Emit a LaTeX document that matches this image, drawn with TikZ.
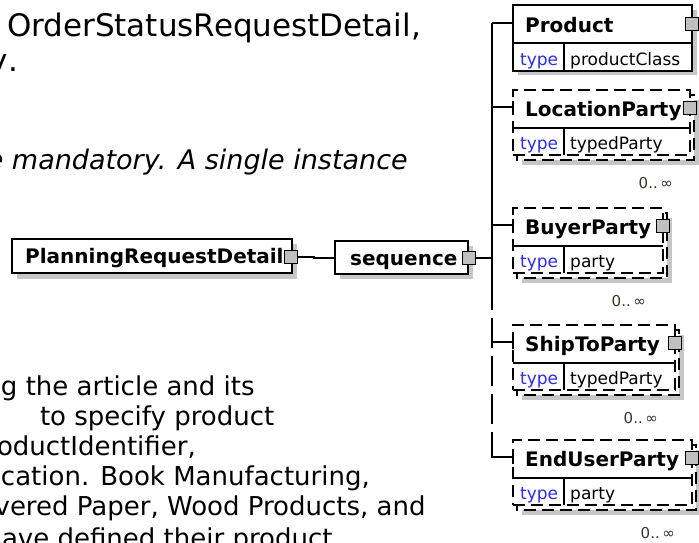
\documentclass[tikz,border=0pt]{standalone}
\usepackage{fontspec}
\setmainfont{DejaVu Sans}
\definecolor{shadowc}{RGB}{198,198,198}
\definecolor{sqfill}{RGB}{192,192,192}
\definecolor{typeblue}{RGB}{45,45,230}
\definecolor{occc}{RGB}{60,50,40}
\newcommand\fsz[1]{\fontsize{#1}{#1}\selectfont}
\tikzset{
  para/.style={anchor=base west, inner sep=0pt, outer sep=0pt},
  boxline/.style={draw=black, line width=1.1pt},
  dashline/.style={draw=black, line width=1.1pt, dash pattern=on 12pt off 6pt},
  ttl/.style={anchor=base west, inner sep=0pt, font={\bfseries\fsz{20}}},
  typelbl/.style={anchor=base west, inner sep=0pt, font={\fsz{17}}, text=typeblue},
  typeval/.style={anchor=base west, inner sep=0pt, font={\fsz{17}}},
  occ/.style={anchor=base east, inner sep=0pt, font={\fsz{15}}, text=occc},
  sqbtn/.style={draw=black, line width=1pt, fill=sqfill, minimum size=13pt, inner sep=0pt},
  conn/.style={draw=black, line width=1.1pt},
  dconn/.style={conn, dash pattern=on 30pt off 8pt},
}
% #1 name, #2 top, #3 right, #4 title, #5 type value
\newcommand\xsdsingle[5]{%
  \fill[shadowc] (518,#2+5) rectangle (#3+5,#2+70);
  \node[boxline, fill=white, anchor=north west, inner sep=0pt, outer sep=0pt,
        minimum width={#3-513}, minimum height=66] (#1) at (513,#2) {};
  \draw[boxline] (513,#2+38) -- (#3,#2+38);
  \draw[boxline] (564,#2+38) -- (564,#2+66);
  \coordinate (#1-in) at (513,#2+18);
  \node[ttl] (#1-t) at (525,#2+27) {#4};
  \node[typelbl] (#1-k) at (520,#2+60) {type};
  \node[typeval] (#1-v) at (570,#2+60) {#5};
  \node[sqbtn] (#1-sq) at (#3,#2+18.5) {};
}
\newcommand\xsdmulti[5]{%
  \fill[shadowc] (522,#2+10) rectangle (#3+9,#2+75);
  \draw[dashline, fill=white] (517,#2+5) rectangle (#3+4,#2+70);
  \node[dashline, fill=white, anchor=north west, inner sep=0pt, outer sep=0pt,
        minimum width={#3-513}, minimum height=65] (#1) at (513,#2) {};
  \draw[boxline] (513,#2+38) -- (#3,#2+38);
  \draw[boxline] (564,#2+38) -- (564,#2+65);
  \draw[boxline] (513,#2+11) -- (513,#2+24);
  \coordinate (#1-in) at (513,#2+17);
  \node[ttl] (#1-t) at (525,#2+26) {#4};
  \node[typelbl] (#1-k) at (520,#2+59) {type};
  \node[typeval] (#1-v) at (570,#2+59) {#5};
  \node[sqbtn] (#1-sq) at (#3,#2+18) {};
  \node[occ] (#1-o) at (#3-17,#2+98) {0..\,∞};
}
\begin{document}
\begin{tikzpicture}[x=1pt,y=-1pt]
\useasboundingbox (0,0) rectangle (699,542);

% text
\node[para, font={\fsz{31}}] (l1) at (7,36) {OrderStatusRequestDetail,};
\node[para, font={\fsz{31}}] (l2) at (8,71) {\llap{y}.};
\node[para, font={\itshape\fsz{27}}] (it) at (12,169) {\llap{be }mandatory. A single instance};
\node[para, font={\fsz{26}}] (p1) at (1,395) {g the article and its};
\node[para, font={\fsz{26}}] (p2) at (40,425) {to specify product};
\node[para, font={\fsz{26}}] (p3) at (-3,455) {\llap{pr}oductIdentifier,};
\node[para, font={\fsz{26}}] (p4) at (1,485) {cation. Book Manufacturing,};
\node[para, font={\fsz{26}}] (p5) at (10,515) {\llap{v}ered Paper, Wood Products, and};
\node[para, font={\fsz{26}}] (p6) at (2,547) {\llap{h}ave defined their product};

% left boxes
\fill[shadowc] (17,244) rectangle (297,279);
\node[boxline, fill=white, anchor=north west, inner sep=0pt, outer sep=0pt,
      minimum width=280, minimum height=34] (prd) at (12,239) {};
\node[ttl] (prd-t) at (25,263) {PlanningRequestDetail};
\node[sqbtn] (prd-sq) at (291,257) {};

\fill[shadowc] (340,246) rectangle (473,279);
\node[boxline, fill=white, anchor=north west, inner sep=0pt, outer sep=0pt,
      minimum width=133, minimum height=33] (seq) at (335,241) {};
\node[ttl] (seq-t) at (350,265) {sequence};
\node[sqbtn] (seq-sq) at (468.5,258) {};

\coordinate (jog) at (314,257);
\draw[conn] (prd-sq.east) -- (jog) |- (seq.west |- seq-sq.west);

% children
\xsdsingle{prod}{5}{692}{Product}{productClass}
\xsdmulti{loc}{90}{690}{LocationParty}{typedParty}
\xsdmulti{buy}{208}{663}{BuyerParty}{party}
\xsdmulti{ship}{325}{675}{ShipToParty}{typedParty}
\xsdmulti{endu}{440}{692}{EndUserParty}{party}

% trunk
\coordinate (tr-prod) at (492,23);
\coordinate (tr-loc) at (492,107);
\coordinate (tr-seq) at (492,258);
\coordinate (tr-buy) at (492,225);
\coordinate (tr-sol) at (492,280);
\coordinate (tr-ship) at (492,342);
\coordinate (tr-dend) at (492,445);
\coordinate (tr-endu) at (492,457);

\draw[conn] (tr-prod) -- (tr-sol);
\draw[dconn] (tr-sol) -- (tr-dend);
\draw[conn] (tr-dend) -- (tr-endu) -- (endu-in);
\draw[conn] (tr-prod) -- (prod-in);
\draw[conn] (tr-loc) -- (loc-in);
\draw[conn] (tr-buy) -- (buy-in);
\draw[conn] (tr-ship) -- (ship-in);
\draw[conn] (seq-sq.east) -- (tr-seq);
\end{tikzpicture}
\end{document}
